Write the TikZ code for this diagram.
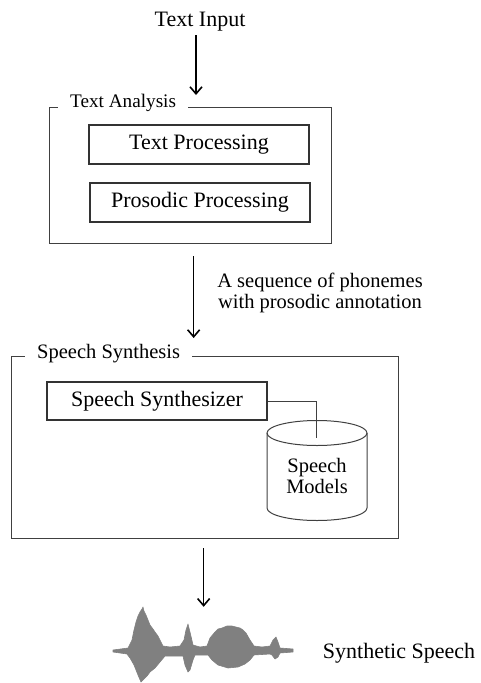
\documentclass[tikz,border=0pt]{standalone}
\usepackage{fontspec}
\setmainfont{Liberation Serif}
\usetikzlibrary{arrows.meta,positioning}

\begin{document}
\begin{tikzpicture}[
  x=1pt, y=-1pt,
  font=\fontsize{22}{24}\selectfont,
  small/.style={font=\fontsize{20.5}{21.5}\selectfont},
  group/.style={draw=black!75, line width=1.3pt, anchor=north west, inner sep=0pt},
  grouplabel/.style={small, fill=white, anchor=west, inner xsep=12pt, inner ysep=1pt},
  proc/.style={draw=black!80, line width=1.2pt, minimum width=220pt, minimum height=39pt, inner sep=0pt},
  flow/.style={-{Straight Barb[length=7pt,width=12pt]}, line width=1.6pt},
  link/.style={draw=black!75, line width=1pt},
  wave/.style={fill=black!50, draw=black!50, line width=0.6pt, line join=round}
]
\useasboundingbox (0,0) rectangle (481,683);

\node (input) at (200,22) {Text Input};

\node[group, minimum width=282pt, minimum height=136pt] (analysis) at (49,107) {};
\node[grouplabel, font=\fontsize{19.2}{21}\selectfont] (analysislabel) at (58,103) {Text Analysis};
\node[proc] (textproc) at (199,144.5) {Text Processing};
\node[proc] (prosproc) at (200,202.5) {Prosodic Processing};

\node[small, align=center] (phonlabel) at (320,293) {A sequence of phonemes\\with prosodic annotation};

\node[group, minimum width=387pt, minimum height=182pt] (synthesis) at (11,356) {};
\node[grouplabel] (synthesislabel) at (25,354) {Speech Synthesis};
\node[proc, minimum height=38pt] (synth) at (157,401) {Speech Synthesizer};

\node[small, align=center] (models) at (317,476) {Speech\\Models};
\draw[link] (267,433) -- (267,508) arc[start angle=180, end angle=360, x radius=50pt, y radius=12.5pt] -- (367,433);
\draw[link] (317,433) ellipse[x radius=50pt, y radius=12.5pt];
\coordinate (dbtap) at (316,438);
\draw[link] (synth.east) -| (dbtap);

\node[minimum width=180pt, minimum height=73pt, inner sep=0pt] (wave) at (203,646.5) {};
\filldraw[wave] (113,650) -- (128,648) -- (130,644) -- (132,640) -- (134,630) -- (136,622) -- (138,616) -- (140,612) -- (142,609) -- (143,607) -- (144,611) -- (146,615) -- (148,620) -- (150,625) -- (153,629) -- (155,632) -- (158,636) -- (160,640) -- (163,646) -- (170,647) -- (180,646) -- (184,640) -- (186,630) -- (188,624) -- (190,632) -- (193,645) -- (200,647) -- (207,646) -- (210,638) -- (215,632) -- (218,629) -- (222,628) -- (227,626) -- (232,626) -- (236,627) -- (240,628) -- (243,630) -- (246,633) -- (250,640) -- (254,646) -- (262,647) -- (270,646) -- (273,640) -- (276,637) -- (278,642) -- (280,648) -- (293,649)
  -- (293,652) -- (280,653) -- (278,657) -- (275,659) -- (272,655) -- (270,654) -- (254,655) -- (250,660) -- (245,664) -- (238,667) -- (228,668) -- (218,665) -- (212,660) -- (208,655) -- (195,655) -- (193,660) -- (190,670) -- (188,672) -- (185,665) -- (183,656) -- (165,656) -- (160,662) -- (155,668) -- (150,672) -- (147,676) -- (145,678) -- (141,682) -- (138,675) -- (136,670) -- (134,665) -- (130,658) -- (127,654) -- (113,652) -- cycle;
\node (outspeech) at (399,653) {Synthetic Speech};

\draw[flow, shorten >=12pt] ([xshift=-4pt]input.south) -- ([xshift=-4pt]input.south |- analysis.north);
\draw[flow, shorten <=12pt, shorten >=18pt] ([xshift=3pt]analysis.south) -- ([xshift=3pt]analysis.south |- synthesis.north);
\draw[flow, shorten <=9pt, shorten >=3pt] ([xshift=-1.5pt]synthesis.south) -- ([xshift=-1.5pt]synthesis.south |- wave.north);
\end{tikzpicture}
\end{document}
